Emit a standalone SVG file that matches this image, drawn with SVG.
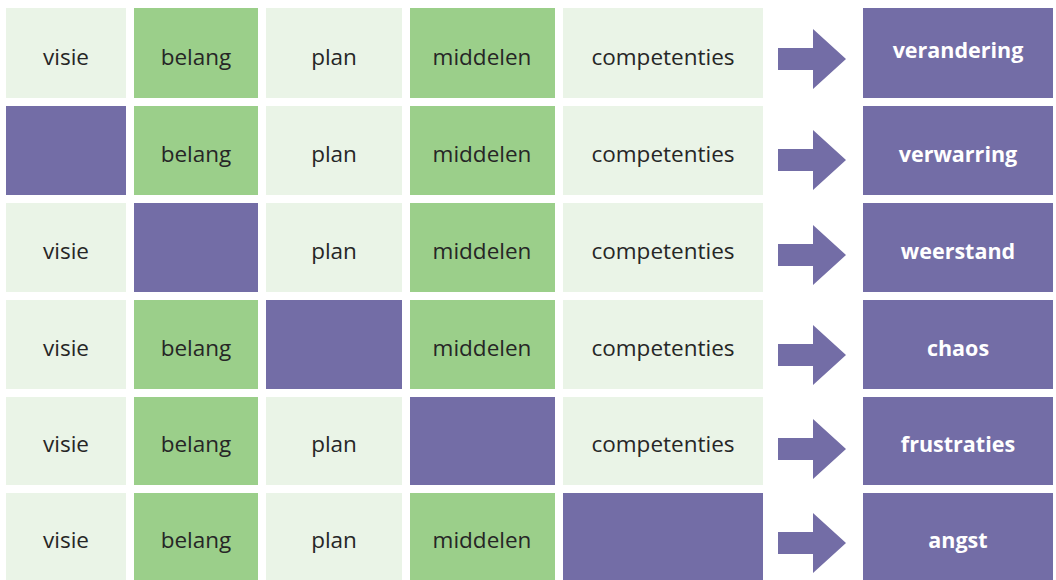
<svg xmlns="http://www.w3.org/2000/svg" width="1056" height="580" viewBox="0 0 1056 580">
<style>
.l{fill:#EAF4E7}
.g{fill:#9BCF8A}
.p{fill:#736DA6}
.t{font-family:"Open Sans","Liberation Sans",sans-serif;font-size:22.5px;fill:#262626;text-anchor:middle}
.w{font-family:"Open Sans","Liberation Sans",sans-serif;font-size:21.5px;font-weight:bold;fill:#ffffff;text-anchor:middle}
</style>
<defs>
<path id="arr" d="M778,-11 H813 V-30 L846,0 L813,30 V11 H778 Z" class="p"/>
</defs>
<rect width="1056" height="580" fill="#ffffff"/>
<!-- Row 1 -->
<g id="r1">
<rect class="l" x="6" y="8" width="120" height="90"/><text class="t" x="66" y="65">visie</text>
<rect class="g" x="134" y="8" width="124" height="90"/><text class="t" x="196" y="65">belang</text>
<rect class="l" x="266" y="8" width="136" height="90"/><text class="t" x="334" y="65">plan</text>
<rect class="g" x="410" y="8" width="145" height="90"/><text class="t" x="482" y="65">middelen</text>
<rect class="l" x="563" y="8" width="200" height="90"/><text class="t" x="663" y="65">competenties</text>
<rect class="p" x="863" y="8" width="190" height="90"/><text class="w" x="958" y="58">verandering</text>
</g>
<g id="r2">
<rect class="p" x="6" y="106" width="120" height="89"/>
<rect class="g" x="134" y="106" width="124" height="89"/><text class="t" x="196" y="162">belang</text>
<rect class="l" x="266" y="106" width="136" height="89"/><text class="t" x="334" y="162">plan</text>
<rect class="g" x="410" y="106" width="145" height="89"/><text class="t" x="482" y="162">middelen</text>
<rect class="l" x="563" y="106" width="200" height="89"/><text class="t" x="663" y="162">competenties</text>
<rect class="p" x="863" y="106" width="190" height="89"/><text class="w" x="958" y="162">verwarring</text>
</g>
<g id="r3">
<rect class="l" x="6" y="203" width="120" height="89"/><text class="t" x="66" y="259">visie</text>
<rect class="p" x="134" y="203" width="124" height="89"/>
<rect class="l" x="266" y="203" width="136" height="89"/><text class="t" x="334" y="259">plan</text>
<rect class="g" x="410" y="203" width="145" height="89"/><text class="t" x="482" y="259">middelen</text>
<rect class="l" x="563" y="203" width="200" height="89"/><text class="t" x="663" y="259">competenties</text>
<rect class="p" x="863" y="203" width="190" height="89"/><text class="w" x="958" y="259">weerstand</text>
</g>
<g id="r4">
<rect class="l" x="6" y="300" width="120" height="89"/><text class="t" x="66" y="356">visie</text>
<rect class="g" x="134" y="300" width="124" height="89"/><text class="t" x="196" y="356">belang</text>
<rect class="p" x="266" y="300" width="136" height="89"/>
<rect class="g" x="410" y="300" width="145" height="89"/><text class="t" x="482" y="356">middelen</text>
<rect class="l" x="563" y="300" width="200" height="89"/><text class="t" x="663" y="356">competenties</text>
<rect class="p" x="863" y="300" width="190" height="89"/><text class="w" x="958" y="356">chaos</text>
</g>
<g id="r5">
<rect class="l" x="6" y="397" width="120" height="88"/><text class="t" x="66" y="452">visie</text>
<rect class="g" x="134" y="397" width="124" height="88"/><text class="t" x="196" y="452">belang</text>
<rect class="l" x="266" y="397" width="136" height="88"/><text class="t" x="334" y="452">plan</text>
<rect class="p" x="410" y="397" width="145" height="88"/>
<rect class="l" x="563" y="397" width="200" height="88"/><text class="t" x="663" y="452">competenties</text>
<rect class="p" x="863" y="397" width="190" height="88"/><text class="w" x="958" y="452">frustraties</text>
</g>
<g id="r6">
<rect class="l" x="6" y="493" width="120" height="87"/><text class="t" x="66" y="548">visie</text>
<rect class="g" x="134" y="493" width="124" height="87"/><text class="t" x="196" y="548">belang</text>
<rect class="l" x="266" y="493" width="136" height="87"/><text class="t" x="334" y="548">plan</text>
<rect class="g" x="410" y="493" width="145" height="87"/><text class="t" x="482" y="548">middelen</text>
<rect class="p" x="563" y="493" width="200" height="87"/>
<rect class="p" x="863" y="493" width="190" height="87"/><text class="w" x="958" y="548">angst</text>
</g>
<g id="connectors">
<use href="#arr" y="59"/>
<use href="#arr" y="160"/>
<use href="#arr" y="255"/>
<use href="#arr" y="355"/>
<use href="#arr" y="449"/>
<use href="#arr" y="543"/>
</g>
</svg>
